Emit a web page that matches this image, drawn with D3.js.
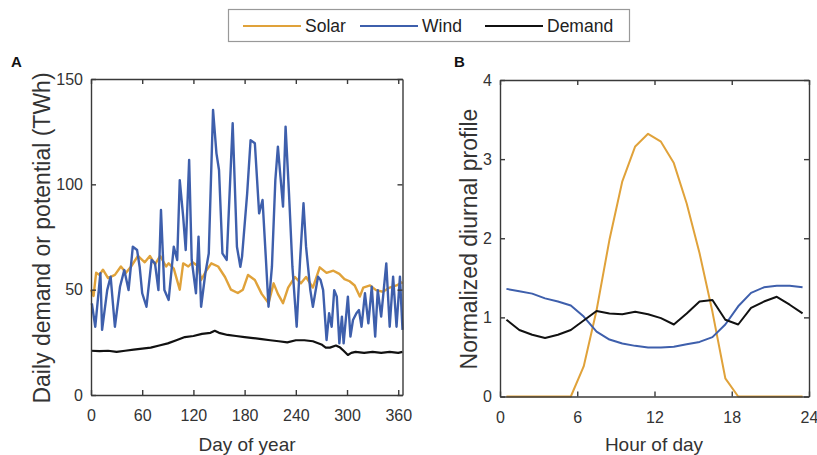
<!DOCTYPE html>
<html>
<head>
<meta charset="utf-8">
<style>
  body { margin: 0; background: #fff; }
  svg { font-family: "Liberation Sans", Arial, sans-serif; }
</style>
</head>
<body>
<svg id="chart"></svg>
<script src="https://d3js.org/d3.v7.min.js"></script>
<script>

  // panel A: daily values (TWh)
  var windDays = [1, 5, 11, 13, 19, 23, 28, 34, 39, 44, 49, 54, 57, 60, 65, 71, 75, 79, 82, 86,
    91, 97, 101, 104, 108, 111, 115, 118, 123, 126, 129, 134, 138, 143, 147, 150, 154, 159, 166, 171,
    175, 177, 183, 187, 192, 197, 201, 205, 208, 212, 216, 219, 222, 225, 228, 232, 236, 241, 245, 249,
    252, 257, 260, 266, 269, 272, 276, 279, 282, 285, 288, 291, 294, 296, 301, 304, 307, 311, 314, 317,
    321, 325, 329, 333, 336, 340, 346, 350, 354, 358, 362, 365];
  var windValues = [43.5, 32.4, 57.8, 30.9, 49.8, 56.2, 32.4, 51.4, 59.3, 49.8, 70.4, 68.8, 60.9, 48.3, 41.9, 64.1, 62.5, 49.8, 87.8, 49.8,
    45.1, 70.4, 64.1, 102, 84.7, 68.8, 111.6, 64.1, 48.3, 75.2, 41.9, 57.8, 67.2, 135.3, 114.7, 106.8, 67.2, 64.1, 129, 70.4,
    60.9, 65.7, 95.7, 121, 119.5, 86.2, 92.6, 64.1, 41.9, 60.9, 102, 117.9, 103.6, 89.4, 127.4, 95.7, 60.9, 32.4, 64.1, 91,
    70.4, 49.8, 41.9, 56.2, 54.6, 49.8, 26.1, 38.8, 32.4, 49.8, 46.7, 24.5, 37.2, 24.5, 46.7, 27.7, 35.6, 38.8, 40.3, 32.4,
    48.3, 34, 51.4, 27.7, 49.8, 37.2, 62.5, 32.4, 56.2, 32.4, 56.2, 30.9];

  var solarDays = [0, 3, 6, 10, 14, 20, 28, 35, 41, 47, 55, 63, 69, 75, 81, 88, 91, 97, 104, 108,
    114, 119, 126, 129, 135, 141, 149, 157, 164, 172, 178, 184, 192, 200, 208, 214, 219, 225, 231, 239,
    246, 252, 260, 268, 276, 284, 291, 297, 303, 309, 315, 319, 327, 334, 342, 350, 358, 365];
  var solarValues = [50, 47, 58, 57, 59.5, 55.5, 57, 61, 58, 61, 66, 63, 66, 62, 66, 61, 62.5, 60, 50, 62.5,
    61, 63, 61, 54.6, 59, 62.5, 61, 56, 50, 48.4, 50, 57, 54.6, 48, 43.6, 53, 48, 43.6, 51, 56,
    53, 56, 51, 60.6, 58, 59, 57.5, 55, 54, 52, 46.7, 51, 52, 49.8, 49, 51, 52, 53.6];

  var demandDays = [0, 10, 20, 30, 40, 50, 60, 70, 80, 90, 100, 110, 120, 130, 140, 145, 150, 160, 170, 180,
    190, 200, 210, 220, 230, 240, 250, 260, 270, 275, 280, 287, 292, 296, 301, 305, 310, 320, 330, 340, 350, 360, 365];
  var demandValues = [21, 20.8, 21, 20.5, 21, 21.5, 22, 22.5, 23.5, 24.5, 26, 27.5, 28, 29, 29.5, 30.5, 29.5, 28.5, 28, 27.5,
    27, 26.5, 26, 25.5, 25, 26, 26, 25.5, 24, 22.5, 22.5, 23.5, 22.5, 21, 19, 20, 20.5, 20, 20.5, 20, 20.5, 20, 20.5];

  // panel B: normalized hourly profiles
  var hours = [0.5, 1.5, 2.5, 3.5, 4.5, 5.5, 6.5, 7.5, 8.5, 9.5, 10.5, 11.5,
    12.5, 13.5, 14.5, 15.5, 16.5, 17.5, 18.5, 19.5, 20.5, 21.5, 22.5, 23.5];
  var solarProfile = [0, 0, 0, 0, 0, 0, 0.38, 1.09, 1.98, 2.72, 3.16, 3.32,
    3.22, 2.95, 2.44, 1.81, 1.07, 0.23, 0, 0, 0, 0, 0, 0];
  var windProfile = [1.36, 1.33, 1.30, 1.24, 1.20, 1.15, 1.01, 0.82, 0.72, 0.67, 0.64, 0.62,
    0.62, 0.63, 0.66, 0.69, 0.75, 0.91, 1.14, 1.31, 1.38, 1.40, 1.40, 1.38];
  var demandProfile = [0.97, 0.84, 0.78, 0.74, 0.78, 0.84, 0.96, 1.08, 1.05, 1.04, 1.07, 1.04,
    0.99, 0.91, 1.05, 1.20, 1.22, 0.97, 0.91, 1.12, 1.20, 1.26, 1.16, 1.05];

  var dayTicks = [0, 60, 120, 180, 240, 300, 360];
  var twhTicks = [0, 50, 100, 150];
  var hourTicks = [0, 6, 12, 18, 24];
  var profileTicks = [0, 1, 2, 3, 4];

  var seriesNames = ["Solar", "Wind", "Demand"];
  var colors = { Solar: "#E0A23A", Wind: "#3E5FAC", Demand: "#111111" };

  var svg = d3.select("#chart")
    .attr("width", 817)
    .attr("height", 455);

  function drawFrame(x, y, xTicks, yTicks) {
    var g = svg.append("g");
    var x0 = x.range()[0], x1 = x.range()[1];
    var y0 = y.range()[0], y1 = y.range()[1];
    var fmt = d3.format("d");

    g.append("g")
      .attr("transform", "translate(0," + y0 + ")")
      .call(d3.axisBottom(x).tickValues(xTicks).tickFormat(fmt)
        .tickSizeInner(-5).tickSizeOuter(0).tickPadding(15));
    g.append("g")
      .attr("transform", "translate(0," + y1 + ")")
      .call(d3.axisTop(x).tickValues(xTicks).tickSizeInner(-5).tickSizeOuter(0).tickFormat(""));
    g.append("g")
      .attr("transform", "translate(" + x0 + ",0)")
      .call(d3.axisLeft(y).tickValues(yTicks).tickFormat(fmt)
        .tickSizeInner(-5).tickSizeOuter(0).tickPadding(8));
    g.append("g")
      .attr("transform", "translate(" + x1 + ",0)")
      .call(d3.axisRight(y).tickValues(yTicks).tickSizeInner(-5).tickSizeOuter(0).tickFormat(""));

    g.selectAll(".domain").attr("stroke", "#3a3a3a").attr("stroke-width", 1.4);
    g.selectAll(".tick line").attr("stroke", "#3a3a3a").attr("stroke-width", 1.4);
    g.selectAll(".tick text")
      .attr("fill", "#333")
      .style("font-size", "16px");
    return g;
  }

  function drawLine(x, y, xs, ys, color, width) {
    var pts = xs.map(function(d, i) { return [d, ys[i]]; });
    var line = d3.line()
      .x(function(d) { return x(d[0]); })
      .y(function(d) { return y(d[1]); });
    svg.append("path")
      .datum(pts)
      .attr("d", line)
      .attr("fill", "none")
      .attr("stroke", color)
      .attr("stroke-width", width)
      .attr("stroke-linejoin", "round");
  }

  // ---- panel A
  var xA = d3.scaleLinear().domain([0, 365]).range([91, 402.5]);
  var yA = d3.scaleLinear().domain([0, 150]).range([395, 79]);

  drawLine(xA, yA, solarDays, solarValues, colors.Solar, 2.4);
  drawLine(xA, yA, windDays, windValues, colors.Wind, 2.4);
  drawLine(xA, yA, demandDays, demandValues, colors.Demand, 2.2);
  drawFrame(xA, yA, dayTicks, twhTicks);

  svg.append("text")
    .attr("x", 247).attr("y", 451)
    .attr("text-anchor", "middle")
    .attr("fill", "#333")
    .style("font-size", "19px")
    .text("Day of year");
  svg.append("text")
    .attr("transform", "translate(50,238) rotate(-90)")
    .attr("text-anchor", "middle")
    .attr("fill", "#333")
    .style("font-size", "23px")
    .text("Daily demand or potential (TWh)");
  svg.append("text")
    .attr("x", 11).attr("y", 67)
    .attr("fill", "#111")
    .style("font-size", "15px")
    .style("font-weight", "bold")
    .text("A");

  // ---- panel B
  var xB = d3.scaleLinear().domain([0, 24]).range([500, 809]);
  var yB = d3.scaleLinear().domain([0, 4]).range([396.5, 80]);

  drawLine(xB, yB, hours, solarProfile, colors.Solar, 2);
  drawLine(xB, yB, hours, windProfile, colors.Wind, 2);
  drawLine(xB, yB, hours, demandProfile, colors.Demand, 2);
  drawFrame(xB, yB, hourTicks, profileTicks);

  svg.append("text")
    .attr("x", 654).attr("y", 451)
    .attr("text-anchor", "middle")
    .attr("fill", "#333")
    .style("font-size", "19px")
    .text("Hour of day");
  svg.append("text")
    .attr("transform", "translate(477,239) rotate(-90)")
    .attr("text-anchor", "middle")
    .attr("fill", "#333")
    .style("font-size", "23px")
    .text("Normalized diurnal profile");
  svg.append("text")
    .attr("x", 454).attr("y", 67)
    .attr("fill", "#111")
    .style("font-size", "15px")
    .style("font-weight", "bold")
    .text("B");

  // ---- legend
  var legend = svg.append("g");
  legend.append("rect")
    .attr("x", 228.5).attr("y", 9.5)
    .attr("width", 401).attr("height", 32)
    .attr("fill", "#fff")
    .attr("stroke", "#999")
    .attr("stroke-width", 1.2);
  var legendX = [243, 360, 485];
  seriesNames.forEach(function(name, i) {
    legend.append("line")
      .attr("x1", legendX[i]).attr("x2", legendX[i] + 58)
      .attr("y1", 26).attr("y2", 26)
      .attr("stroke", colors[name])
      .attr("stroke-width", 2);
    legend.append("text")
      .attr("x", legendX[i] + 62).attr("y", 32)
      .attr("fill", "#222")
      .style("font-size", "17.5px")
      .text(name);
  });

</script>
</body>
</html>
